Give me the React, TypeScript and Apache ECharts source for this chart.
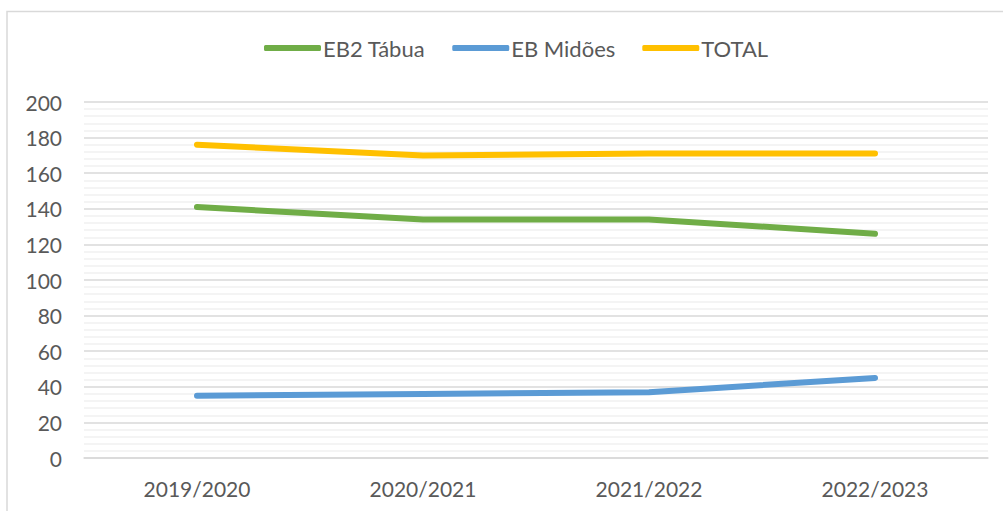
import React, { useEffect, useRef } from "react";
import * as echarts from "echarts";

const categories = ["2019/2020", "2020/2021", "2021/2022", "2022/2023"];
const eb2Tabua = [141, 134, 134, 126];
const ebMidoes = [35, 36, 37, 45];
const total = [176, 170, 171, 171];

const FONT = "Lato, 'Open Sans', sans-serif";

export default function App() {
  const ref = useRef<HTMLDivElement>(null);
  useEffect(() => {
    if (!ref.current) return;
    const chart = echarts.init(ref.current, null, { renderer: "svg" });
    const lineSeries = (name: string, data: number[], color: string) => ({
      name,
      type: "line",
      data,
      symbol: "none",
      lineStyle: { color, width: 6, cap: "round", join: "round" },
      itemStyle: { color },
    });
    chart.setOption({
      animation: false,
      backgroundColor: "#ffffff",
      graphic: [
        {
          type: "rect",
          shape: { x: 7, y: 11.5, width: 1010, height: 520 },
          style: { fill: "none", stroke: "#d9d9d9", lineWidth: 1.5 },
          silent: true,
        },
      ],
      legend: {
        top: 32,
        left: 259,
        itemWidth: 57,
        itemHeight: 6,
        itemGap: 27,
        icon: "roundRect",
        textStyle: { color: "#595959", fontSize: 22, fontFamily: FONT, padding: [0, 0, 0, -3] },
        data: ["EB2 Tábua", "EB Midões", "TOTAL"],
      },
      grid: { left: 84, right: 15, top: 102, bottom: 53 },
      xAxis: {
        type: "category",
        data: categories,
        boundaryGap: true,
        axisLine: { show: true, lineStyle: { color: "#d9d9d9", width: 1.5 } },
        axisTick: { show: false },
        axisLabel: { color: "#595959", fontSize: 21, fontFamily: FONT, margin: 20 },
      },
      yAxis: {
        type: "value",
        min: 0,
        max: 200,
        interval: 20,
        axisLine: { show: false },
        axisTick: { show: false },
        axisLabel: { color: "#595959", fontSize: 21, fontFamily: FONT, margin: 22 },
        splitLine: { show: true, lineStyle: { color: "#d9d9d9", width: 1.5 } },
        minorTick: { show: false, splitNumber: 5 },
        minorSplitLine: { show: true, lineStyle: { color: "#f0f0f0", width: 1.5 } },
      },
      series: [
        lineSeries("EB2 Tábua", eb2Tabua, "#70AD47"),
        lineSeries("EB Midões", ebMidoes, "#5B9BD5"),
        lineSeries("TOTAL", total, "#FFC000"),
      ],
    });
    return () => chart.dispose();
  }, []);
  return (
    <div
      ref={ref}
      style={{ position: "fixed", left: 0, top: 0, width: 1003, height: 511 }}
    />
  );
}
